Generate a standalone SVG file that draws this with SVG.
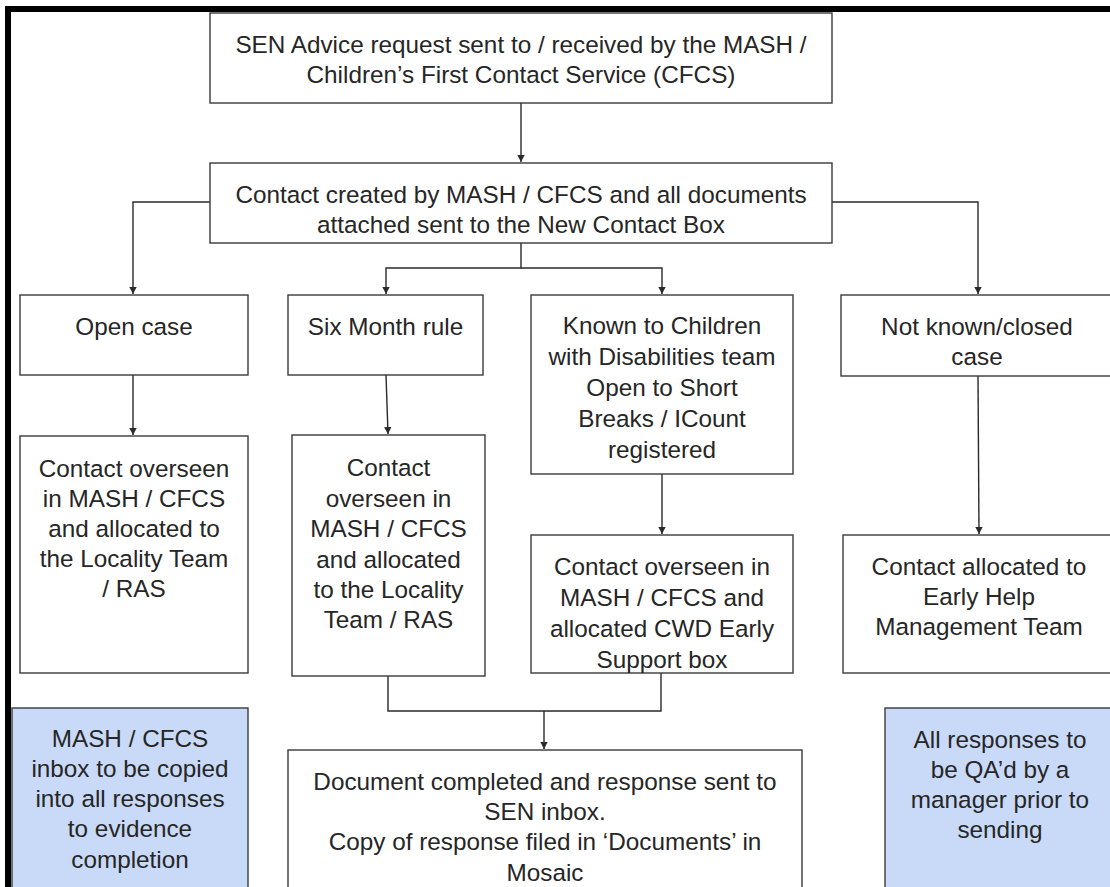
<svg xmlns="http://www.w3.org/2000/svg" width="1110" height="887" viewBox="0 0 1110 887">
<style>
.box{fill:#ffffff;stroke:#3a3a3a;stroke-width:1.4}
.blue{fill:#c9daf8;stroke:#3a3a3a;stroke-width:1.4}
.t{font-family:"Liberation Sans",Arial,sans-serif;font-size:24.3px;fill:#262626;text-anchor:middle}
.c{fill:none;stroke:#2a2a2a;stroke-width:1.4}
</style>
<defs>
<marker id="ah" markerWidth="8" markerHeight="9" refX="7" refY="4.5" orient="auto" markerUnits="userSpaceOnUse">
<path d="M0,0.8 L7,4.5 L0,8.2 Z" fill="#2a2a2a"/>
</marker>
</defs>
<rect x="0" y="0" width="1110" height="887" fill="#ffffff"/>
<rect x="5" y="6" width="1105" height="6" fill="#000"/>
<rect x="5" y="6" width="6" height="881" fill="#000"/>

<g id="connectors">
<path class="c" d="M521 103 V162" marker-end="url(#ah)"/>
<path class="c" d="M210 202 H133 V294" marker-end="url(#ah)"/>
<path class="c" d="M832 202 H978 V294" marker-end="url(#ah)"/>
<path class="c" d="M521 243 V268 H386 V294" marker-end="url(#ah)"/>
<path class="c" d="M521 268 H662 V294" marker-end="url(#ah)"/>
<path class="c" d="M133 375 V435" marker-end="url(#ah)"/>
<path class="c" d="M386 375 L388 434" marker-end="url(#ah)"/>
<path class="c" d="M662 474 V534" marker-end="url(#ah)"/>
<path class="c" d="M978 376 L979 534" marker-end="url(#ah)"/>
<path class="c" d="M388 676 V711 H661 V673"/>
<path class="c" d="M544 711 V749" marker-end="url(#ah)"/>
</g>

<g id="n-request">
<rect class="box" x="210" y="13" width="622" height="90"/>
<text class="t" x="521" y="53">SEN Advice request sent to / received by the MASH /</text>
<text class="t" x="521" y="83">Children’s First Contact Service (CFCS)</text>
</g>

<g id="n-contact-created">
<rect class="box" x="210" y="163" width="622" height="80"/>
<text class="t" x="521" y="203">Contact created by MASH / CFCS and all documents</text>
<text class="t" x="521" y="233">attached sent to the New Contact Box</text>
</g>

<g id="n-open-case">
<rect class="box" x="20" y="295" width="228" height="80"/>
<text class="t" x="134" y="335">Open case</text>
</g>

<g id="n-six-month">
<rect class="box" x="288" y="295" width="195" height="80"/>
<text class="t" x="385.5" y="335">Six Month rule</text>
</g>

<g id="n-known-cwd">
<rect class="box" x="531" y="295" width="262" height="179"/>
<text class="t" x="662" y="334">Known to Children</text>
<text class="t" x="662" y="365">with Disabilities team</text>
<text class="t" x="662" y="396">Open to Short</text>
<text class="t" x="662" y="427">Breaks / ICount</text>
<text class="t" x="662" y="458">registered</text>
</g>

<g id="n-not-known">
<rect class="box" x="841" y="295" width="275" height="81"/>
<text class="t" x="977" y="335">Not known/closed</text>
<text class="t" x="977" y="365">case</text>
</g>

<g id="n-overseen-1">
<rect class="box" x="20" y="436" width="228" height="237"/>
<text class="t" x="134" y="477">Contact overseen</text>
<text class="t" x="134" y="507">in MASH / CFCS</text>
<text class="t" x="134" y="537">and allocated to</text>
<text class="t" x="134" y="567">the Locality Team</text>
<text class="t" x="134" y="597">/ RAS</text>
</g>

<g id="n-overseen-2">
<rect class="box" x="292" y="435" width="193" height="241"/>
<text class="t" x="388.5" y="476">Contact</text>
<text class="t" x="388.5" y="507">overseen in</text>
<text class="t" x="388.5" y="537">MASH / CFCS</text>
<text class="t" x="388.5" y="568">and allocated</text>
<text class="t" x="388.5" y="598">to the Locality</text>
<text class="t" x="388.5" y="628">Team / RAS</text>
</g>

<g id="n-overseen-cwd">
<rect class="box" x="531" y="535" width="262" height="138"/>
<text class="t" x="662" y="575">Contact overseen in</text>
<text class="t" x="662" y="606">MASH / CFCS and</text>
<text class="t" x="662" y="637">allocated CWD Early</text>
<text class="t" x="662" y="668">Support box</text>
</g>

<g id="n-early-help">
<rect class="box" x="843" y="535" width="273" height="138"/>
<text class="t" x="979" y="575">Contact allocated to</text>
<text class="t" x="979" y="605">Early Help</text>
<text class="t" x="979" y="635">Management Team</text>
</g>

<g id="n-mash-inbox">
<rect class="blue" x="12" y="708" width="236" height="185"/>
<text class="t" x="130" y="747">MASH / CFCS</text>
<text class="t" x="130" y="777">inbox to be copied</text>
<text class="t" x="130" y="807">into all responses</text>
<text class="t" x="130" y="837">to evidence</text>
<text class="t" x="130" y="868">completion</text>
</g>

<g id="n-document">
<rect class="box" x="288" y="750" width="514" height="145"/>
<text class="t" x="545" y="790">Document completed and response sent to</text>
<text class="t" x="545" y="820">SEN inbox.</text>
<text class="t" x="545" y="850">Copy of response filed in ‘Documents’ in</text>
<text class="t" x="545" y="881">Mosaic</text>
</g>

<g id="n-qa">
<rect class="blue" x="885" y="708" width="232" height="185"/>
<text class="t" x="1000" y="748">All responses to</text>
<text class="t" x="1000" y="778">be QA’d by a</text>
<text class="t" x="1000" y="808">manager prior to</text>
<text class="t" x="1000" y="838">sending</text>
</g>
</svg>
